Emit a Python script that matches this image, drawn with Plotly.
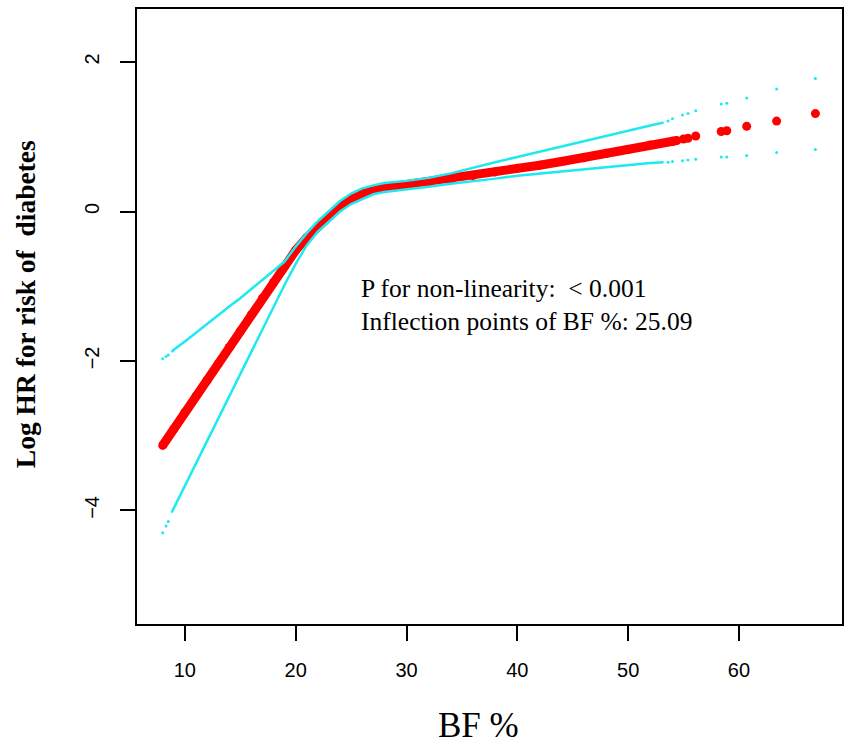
import plotly.graph_objects as go

# fitted log HR (red points, dense part)
fit_x = [8.0, 9, 10, 11, 12, 13, 14, 15, 16, 17, 18, 19, 20, 21, 22, 23, 24, 25,
         26, 27, 28, 29, 30, 32, 34, 36, 38, 40, 42, 44, 46, 48, 50, 52, 54, 54.4]
fit_y = [-3.13, -2.91, -2.69, -2.47, -2.26, -2.04, -1.82, -1.60, -1.38, -1.16,
         -0.95, -0.73, -0.52, -0.35, -0.20, -0.06, 0.07, 0.17, 0.24, 0.29, 0.32,
         0.34, 0.36, 0.39, 0.43, 0.48, 0.53, 0.58, 0.62, 0.67, 0.72, 0.78, 0.83,
         0.89, 0.94, 0.95]

# sparse observations at the right end
tail_x = [55.0, 55.4, 56.1, 58.4, 58.9, 60.7, 63.4, 66.9]
tail_y = [0.97, 0.98, 1.01, 1.07, 1.08, 1.14, 1.21, 1.31]

# 95% CI, continuous part
ci_x = [8.8, 9, 10, 11, 12, 13, 14, 15, 16, 17, 18, 19, 20, 21, 22, 23, 24, 25,
        26, 27, 28, 30, 32, 34, 36, 38, 40, 42, 44, 46, 48, 50, 52, 53.2]
ci_hi = [-1.88, -1.85, -1.74, -1.62, -1.50, -1.39, -1.27, -1.16, -1.04, -0.92,
         -0.80, -0.67, -0.47, -0.29, -0.13, 0.01, 0.14, 0.24, 0.31, 0.35, 0.38,
         0.41, 0.45, 0.51, 0.59, 0.66, 0.73, 0.80, 0.88, 0.95, 1.02, 1.09, 1.15,
         1.19]
ci_lo = [-4.03, -3.97, -3.67, -3.37, -3.07, -2.77, -2.47, -2.17, -1.87, -1.57,
         -1.27, -0.98, -0.70, -0.45, -0.27, -0.13, 0.00, 0.10, 0.17, 0.23, 0.26,
         0.29, 0.33, 0.37, 0.40, 0.44, 0.48, 0.51, 0.54, 0.57, 0.60, 0.63, 0.65,
         0.66]

# 95% CI at the sparse ends
ci_dot_x = [8.0, 8.3, 8.5, 53.6, 54.0, 54.9, 55.4, 56.1, 58.4, 58.9, 60.7, 63.4, 66.9]
ci_dot_hi = [-1.97, -1.94, -1.92, 1.21, 1.24, 1.29, 1.31, 1.35, 1.44, 1.45, 1.52, 1.64, 1.78]
ci_dot_lo = [-4.30, -4.21, -4.15, 0.66, 0.67, 0.68, 0.69, 0.70, 0.73, 0.73, 0.75, 0.79, 0.83]

x_ticks = [10, 20, 30, 40, 50, 60]
y_ticks = [-4, -2, 0, 2]

red = '#FF0000'
cyan = '#1DE9F0'

fig = go.Figure()

fig.add_trace(go.Scatter(x=fit_x, y=fit_y, mode='lines+markers',
                         line=dict(color=red, width=9),
                         marker=dict(color=red, size=9)))
fig.add_trace(go.Scatter(x=tail_x, y=tail_y, mode='markers',
                         marker=dict(color=red, size=9)))

# CI drawn over the fit, as in the original
fig.add_trace(go.Scatter(x=ci_x, y=ci_hi, mode='lines',
                         line=dict(color=cyan, width=2.5)))
fig.add_trace(go.Scatter(x=ci_x, y=ci_lo, mode='lines',
                         line=dict(color=cyan, width=2.5)))
fig.add_trace(go.Scatter(x=ci_dot_x + ci_dot_x, y=ci_dot_hi + ci_dot_lo, mode='markers',
                         marker=dict(color=cyan, size=3)))

fig.add_annotation(x=0.315, y=0.518, xref='paper', yref='paper', xanchor='left',
                   yanchor='middle', align='left', showarrow=False,
                   text='P for non-linearity:  &lt; 0.001<br>Inflection points of BF %: 25.09',
                   font=dict(family='Liberation Serif', size=25.5, color='black'))

# axis titles placed like R's mtext
fig.add_annotation(x=0, y=0.52, xref='paper', yref='paper', xshift=-112,
                   xanchor='center', yanchor='middle', showarrow=False, textangle=-90,
                   text='<b>Log HR for risk of  diabetes</b>',
                   font=dict(family='Liberation Serif', size=27.5, color='black'))
fig.add_annotation(x=0.484, y=0, xref='paper', yref='paper', yshift=-101,
                   xanchor='center', yanchor='middle', showarrow=False,
                   text='BF %',
                   font=dict(family='Liberation Serif', size=35, color='black'))

axis_style = dict(showline=True, mirror=True, linecolor='black', linewidth=2,
                  ticks='outside', ticklen=15, tickwidth=2, tickcolor='black',
                  showgrid=False, zeroline=False,
                  tickfont=dict(family='Liberation Sans', size=20, color='black'))

fig.update_xaxes(range=[5.68, 69.3], tickvals=x_ticks, ticklabelstandoff=12, **axis_style)
fig.update_yaxes(range=[-5.52, 2.71], tickvals=y_ticks, tickangle=-90,
                 ticklabelstandoff=13, **axis_style)

fig.update_layout(width=851, height=746, showlegend=False,
                  plot_bgcolor='white', paper_bgcolor='white',
                  margin=dict(l=137, r=8, t=7, b=122))

# drop the browser's default page margin so the figure sits at the top-left corner
fig.write_html('out.html', config={'displayModeBar': False},
               post_script="document.body.style.margin='0';")
